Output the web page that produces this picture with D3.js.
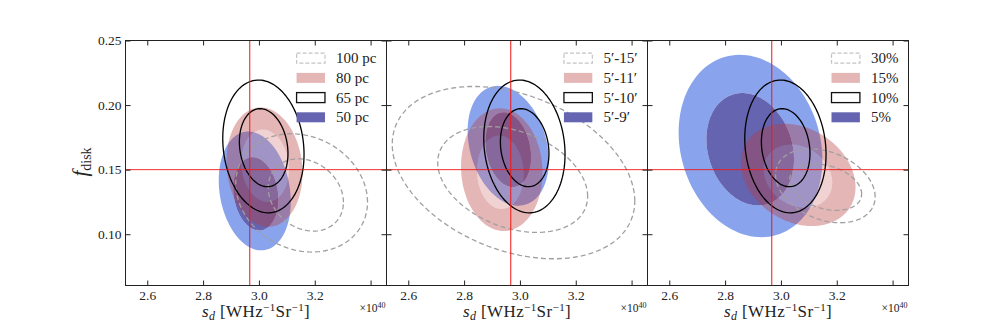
<!DOCTYPE html>
<html>
<head>
<meta charset="utf-8">
<script src="https://cdn.jsdelivr.net/npm/d3@7"></script>
<style>
  body { margin: 0; background: #fff; }
  text { font-family: "Liberation Serif", "DejaVu Serif", serif; fill: #222; }
</style>
</head>
<body>
<svg id="chart" width="1008" height="336"></svg>
<script>
// axis setup
const xDomain = [2.522, 3.457];
const yDomain = [0.0603, 0.25];
const xTicks = [2.6, 2.8, 3.0, 3.2, 3.4];
const xTickLabels = ['2.6', '2.8', '3.0', '3.2', ''];
const yTicks = [0.10, 0.15, 0.20, 0.25];
const yTickLabels = ['0.10', '0.15', '0.20', '0.25'];
const refX = 2.967;
const refY = 0.15;

const legendLabels = [
  ['100 pc', '80 pc', '65 pc', '50 pc'],
  ['5\u2032-15\u2032', '5\u2032-11\u2032', '5\u2032-10\u2032', '5\u2032-9\u2032'],
  ['30%', '15%', '10%', '5%']
];

// contours per panel: [outer, inner], each [cx, cy, sx, sy, rho]
const dashedSets = [
  [[3.153, 0.132, 0.236, 0.0458, -0.155], [3.168, 0.1304, 0.1347, 0.028, -0.2]],
  [[2.977, 0.1477, 0.4345, 0.0667, -0.33], [2.974, 0.1424, 0.2686, 0.041, -0.32]],
  [[3.159, 0.1375, 0.1785, 0.0286, -0.3], [3.16, 0.1365, 0.129, 0.018, -0.3]]
];
const pinkSets = [
  [[3.02, 0.152, 0.136, 0.0462, -0.1], [3.022, 0.153, 0.0855, 0.028, -0.1]],
  [[2.935, 0.15, 0.146, 0.0475, -0.05], [2.93, 0.148, 0.0837, 0.0284, -0.05]],
  [[3.062, 0.1459, 0.2053, 0.0396, -0.24], [3.061, 0.145, 0.1228, 0.0245, -0.2]]
];
const blackSets = [
  [[3.016, 0.168, 0.1456, 0.0514, -0.12], [3.017, 0.167, 0.087, 0.0302, -0.15]],
  [[3.016, 0.168, 0.1456, 0.0514, -0.12], [3.017, 0.167, 0.087, 0.0302, -0.15]],
  [[3.016, 0.168, 0.1456, 0.0514, -0.12], [3.017, 0.167, 0.087, 0.0302, -0.15]]
];
const blueSets = [
  [[2.985, 0.1335, 0.129, 0.046, -0.18], [2.989, 0.1313, 0.0808, 0.0284, -0.15]],
  [[2.958, 0.1685, 0.1454, 0.0464, -0.25], [2.958, 0.1655, 0.082, 0.029, -0.2]],
  [[2.891, 0.1683, 0.2575, 0.0706, -0.15], [2.89, 0.1658, 0.157, 0.0435, -0.18]]
];

const dims = { left: 125.5, top: 40.5, width: 261, height: 245 };

const colors = {
  blueOuter: '#89a3ec',
  blueInner: '#6464b0',
  pinkOuter: '#b83a3a',
  pinkInner: '#d07272',
  dashed: '#a0a0a0',
  ref: '#f01818'
};

const svg = d3.select('#chart');

const x = d3.scaleLinear().domain(xDomain).range([0, dims.width]);
const y = d3.scaleLinear().domain(yDomain).range([dims.height, 0]);

const line = d3.line().x((d) => x(d[0])).y((d) => y(d[1])).curve(d3.curveLinearClosed);

// ellipse points from centre, half extents and tilt
const ellipsePts = (c) => {
  const [cx, cy, sx, sy, rho] = c;
  const k = Math.sqrt(1 - rho * rho);
  return d3.range(0, 120).map((i) => {
    const t = (i / 120) * Math.PI * 2;
    return [cx + sx * Math.cos(t), cy + sy * (rho * Math.cos(t) + k * Math.sin(t))];
  });
};

dashedSets.forEach((_, p) => {
  const g = svg.append('g')
    .attr('transform', `translate(${dims.left + p * dims.width}, ${dims.top})`);

  const plot = g.append('g');

  // blue filled contours (ring + core)
  const [bo, bi] = blueSets[p];
  plot.append('path')
    .attr('d', line(ellipsePts(bo)) + line(ellipsePts(bi)))
    .attr('fill-rule', 'evenodd')
    .attr('fill', colors.blueOuter);
  plot.append('path')
    .attr('d', line(ellipsePts(bi)))
    .attr('fill', colors.blueInner);

  // pink filled contours, see-through
  const [po, pi] = pinkSets[p];
  plot.append('path')
    .attr('d', line(ellipsePts(po)) + line(ellipsePts(pi)))
    .attr('fill-rule', 'evenodd')
    .attr('fill', colors.pinkOuter)
    .attr('fill-opacity', 0.37);
  plot.append('path')
    .attr('d', line(ellipsePts(pi)))
    .attr('fill', colors.pinkInner)
    .attr('fill-opacity', 0.32);

  // dashed gray contours
  plot.selectAll('path.dash')
    .data(dashedSets[p])
    .enter()
    .append('path')
    .attr('class', 'dash')
    .attr('d', (d) => line(ellipsePts(d)))
    .attr('fill', 'none')
    .attr('stroke', colors.dashed)
    .attr('stroke-width', 1.3)
    .attr('stroke-dasharray', '5,3');

  // black line contours
  plot.selectAll('path.blk')
    .data(blackSets[p])
    .enter()
    .append('path')
    .attr('class', 'blk')
    .attr('d', (d) => line(ellipsePts(d)))
    .attr('fill', 'none')
    .attr('stroke', '#000')
    .attr('stroke-width', 1.3);

  // reference lines
  g.append('line')
    .attr('x1', x(refX)).attr('x2', x(refX))
    .attr('y1', 0).attr('y2', dims.height)
    .attr('stroke', colors.ref).attr('stroke-opacity', 0.85).attr('stroke-width', 1.2);
  g.append('line')
    .attr('x1', 0).attr('x2', dims.width)
    .attr('y1', y(refY)).attr('y2', y(refY))
    .attr('stroke', colors.ref).attr('stroke-opacity', 0.9).attr('stroke-width', 1);

  // axes, inward ticks on all sides
  const bottom = g.append('g')
    .attr('transform', `translate(0, ${dims.height})`)
    .call(d3.axisBottom(x).tickValues(xTicks).tickSize(-5).tickPadding(5)
      .tickFormat((d, i) => xTickLabels[i]));
  const top = g.append('g')
    .call(d3.axisTop(x).tickValues(xTicks).tickSize(-5).tickFormat(''));
  const left = g.append('g')
    .call(d3.axisLeft(y).tickValues(yTicks).tickSize(-5).tickPadding(4)
      .tickFormat((d, i) => (p === 0 ? yTickLabels[i] : '')));
  const right = g.append('g')
    .attr('transform', `translate(${dims.width}, 0)`)
    .call(d3.axisRight(y).tickValues(yTicks).tickSize(-5).tickFormat(''));

  [bottom, top, left, right].forEach((a) => {
    a.select('.domain').remove();
    a.selectAll('line').attr('stroke', '#222');
    a.selectAll('text').attr('font-size', 13.5).attr('fill', '#222');
  });

  g.append('rect')
    .attr('width', dims.width).attr('height', dims.height)
    .attr('fill', 'none').attr('stroke', '#222').attr('stroke-width', 1);

  // legend
  const legend = g.append('g');
  const labels = legendLabels[p];
  const texts = legend.selectAll('text')
    .data(labels)
    .enter()
    .append('text')
    .attr('font-size', 15)
    .attr('y', (d, i) => 22.7 + i * 19.7)
    .text((d) => d);
  const maxLen = d3.max(texts.nodes(), (n) => n.getComputedTextLength());
  const textX = dims.width - 10 - maxLen;
  texts.attr('x', textX);

  const sw = { x: textX - 39.5, w: 28.4, h: 10 };
  const rowY = (i) => 12.7 + i * 19.7;
  legend.append('rect')
    .attr('x', sw.x).attr('y', rowY(0)).attr('width', sw.w).attr('height', sw.h)
    .attr('fill', 'none').attr('stroke', '#c4c4c4').attr('stroke-width', 1.2)
    .attr('stroke-dasharray', '4,2');
  legend.append('rect')
    .attr('x', sw.x).attr('y', rowY(1)).attr('width', sw.w).attr('height', sw.h)
    .attr('fill', colors.pinkOuter).attr('fill-opacity', 0.37);
  legend.append('rect')
    .attr('x', sw.x).attr('y', rowY(2)).attr('width', sw.w).attr('height', sw.h)
    .attr('fill', 'none').attr('stroke', '#111').attr('stroke-width', 1.3);
  legend.append('rect')
    .attr('x', sw.x).attr('y', rowY(3)).attr('width', sw.w).attr('height', sw.h)
    .attr('fill', colors.blueInner);

  // x axis label
  const xl = g.append('text')
    .attr('x', dims.width / 2)
    .attr('y', dims.height + 31)
    .attr('text-anchor', 'middle')
    .attr('letter-spacing', 0.4)
    .attr('font-size', 17);
  xl.append('tspan').attr('font-style', 'italic').text('s');
  xl.append('tspan').attr('font-style', 'italic').attr('font-size', 12).attr('dy', 3).text('d');
  xl.append('tspan').attr('dy', -3).text(' [WHz');
  xl.append('tspan').attr('font-size', 11).attr('dy', -6).text('\u22121');
  xl.append('tspan').attr('dy', 6).text('Sr');
  xl.append('tspan').attr('font-size', 11).attr('dy', -6).text('\u22121');
  xl.append('tspan').attr('dy', 6).text(']');

  // offset text
  const off = g.append('text')
    .attr('x', dims.width - 1)
    .attr('y', dims.height + 26.5)
    .attr('text-anchor', 'end')
    .attr('font-size', 11.5);
  off.append('tspan').text('\u00d710');
  off.append('tspan').attr('font-size', 8).attr('dy', -4).text('40');
});

// y axis label
const yl = svg.append('text')
  .attr('transform', 'translate(87, 162) rotate(-90)')
  .attr('text-anchor', 'middle')
  .attr('font-size', 21);
yl.append('tspan').attr('font-style', 'italic').text('f');
yl.append('tspan').attr('font-size', 14).attr('dy', 4).text('disk');
</script>
</body>
</html>
